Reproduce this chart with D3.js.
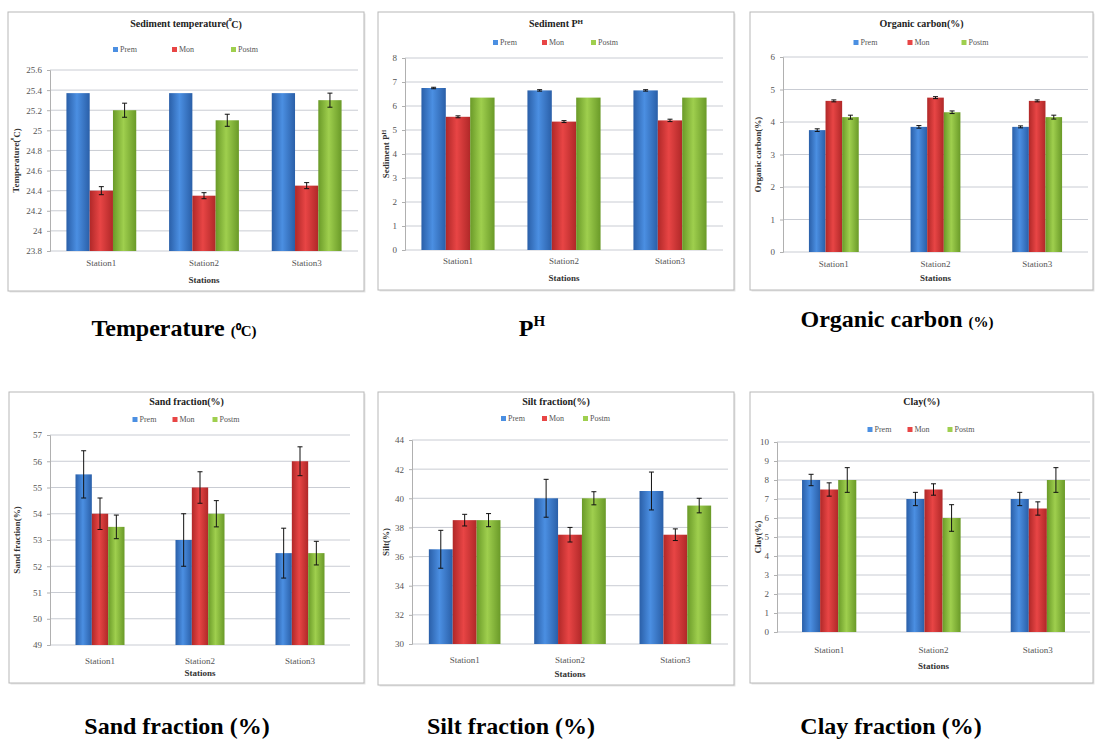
<!DOCTYPE html>
<html>
<head>
<meta charset="utf-8">
<script src="https://cdn.jsdelivr.net/npm/d3@7"></script>
<style>
  body { margin: 0; background: #fff; }
  text { font-family: 'Liberation Serif', 'Times New Roman', serif; }
</style>
</head>
<body>
<svg id="container" width="1095" height="742"></svg>
<script>
const stations = ['Station1', 'Station2', 'Station3'];
const seasons = ['Prem', 'Mon', 'Postm'];

// rows = stations, columns = seasons (Prem, Mon, Postm)
const temperature = [[25.37, 24.4, 25.2], [25.37, 24.35, 25.1], [25.37, 24.45, 25.3]];
const temperatureErr = [[0, 0.04, 0.07], [0, 0.03, 0.06], [0, 0.03, 0.07]];
const temperatureTicks = [23.8, 24, 24.2, 24.4, 24.6, 24.8, 25, 25.2, 25.4, 25.6];

const ph = [[6.75, 5.55, 6.35], [6.65, 5.35, 6.35], [6.65, 5.4, 6.35]];
const phErr = [[0.03, 0.04, 0], [0.03, 0.04, 0], [0.03, 0.05, 0]];
const phTicks = [0, 1, 2, 3, 4, 5, 6, 7, 8];

const carbon = [[3.75, 4.65, 4.15], [3.85, 4.75, 4.3], [3.85, 4.65, 4.15]];
const carbonErr = [[0.04, 0.03, 0.06], [0.04, 0.03, 0.04], [0.03, 0.03, 0.06]];
const carbonTicks = [0, 1, 2, 3, 4, 5, 6];

const sand = [[55.5, 54, 53.5], [53, 55, 54], [52.5, 56, 52.5]];
const sandErr = [[0.9, 0.6, 0.45], [1.0, 0.6, 0.5], [0.95, 0.55, 0.45]];
const sandTicks = [49, 50, 51, 52, 53, 54, 55, 56, 57];

const silt = [[36.5, 38.5, 38.5], [40, 37.5, 40], [40.5, 37.5, 39.5]];
const siltErr = [[1.3, 0.4, 0.45], [1.3, 0.5, 0.45], [1.3, 0.4, 0.5]];
const siltTicks = [30, 32, 34, 36, 38, 40, 42, 44];

const clay = [[8, 7.5, 8], [7, 7.5, 6], [7, 6.5, 8]];
const clayErr = [[0.3, 0.35, 0.65], [0.35, 0.3, 0.7], [0.35, 0.35, 0.65]];
const clayTicks = [0, 1, 2, 3, 4, 5, 6, 7, 8, 9, 10];

const colors = [
  { edge: '#2a5fa8', mid: '#4b8fe2' },
  { edge: '#b02828', mid: '#e84545' },
  { edge: '#6a9a28', mid: '#9fcf4e' },
];

const svg = d3.select('#container');

// gradients like the Excel bars
const defs = svg.append('defs');
colors.forEach((c, i) => {
  const g = defs.append('linearGradient').attr('id', 'grad' + i)
    .attr('x1', '0%').attr('x2', '100%').attr('y1', '0%').attr('y2', '0%');
  g.append('stop').attr('offset', '0%').attr('stop-color', c.edge);
  g.append('stop').attr('offset', '45%').attr('stop-color', c.mid);
  g.append('stop').attr('offset', '100%').attr('stop-color', c.edge);
});

const panels = [
  { data: temperature, err: temperatureErr, ticks: temperatureTicks,
    title: ['Sediment temperature(', '⁰', 'C)'], ylab: ['Temperature(', '⁰', 'C)'],
    frame: [8, 12, 364, 291], plot: [50, 70, 358, 251], group: 0.68,
    titleY: 27, legendY: 52, legendStep: 59, labY: 266, axY: 283 },
  { data: ph, err: phErr, ticks: phTicks,
    title: ['Sediment P', 'H', ''], ylab: ['Sediment P', 'H', ''],
    frame: [378, 12, 734, 290], plot: [405, 58, 723, 250], group: 0.69,
    titleY: 27, legendY: 45, legendStep: 49, labY: 264, axY: 281 },
  { data: carbon, err: carbonErr, ticks: carbonTicks,
    title: ['Organic carbon(%)', '', ''], ylab: ['Organic carbon(%)', '', ''],
    frame: [750, 12, 1093, 290], plot: [783, 57, 1088, 252], group: 0.49,
    titleY: 27, legendY: 45, legendStep: 54, labY: 267, axY: 281 },
  { data: sand, err: sandErr, ticks: sandTicks,
    title: ['Sand fraction(%)', '', ''], ylab: ['Sand fraction(%)', '', ''],
    frame: [9, 392, 364, 683], plot: [50, 435, 350, 645], group: 0.49,
    titleY: 405, legendY: 422, legendStep: 40, labY: 664, axY: 676 },
  { data: silt, err: siltErr, ticks: siltTicks,
    title: ['Silt fraction(%)', '', ''], ylab: ['Silt(%)', '', ''],
    frame: [378, 392, 734, 685], plot: [412, 440, 728, 644], group: 0.68,
    titleY: 405, legendY: 421, legendStep: 41, labY: 663, axY: 677 },
  { data: clay, err: clayErr, ticks: clayTicks,
    title: ['Clay(%)', '', ''], ylab: ['Clay(%)', '', ''],
    frame: [750, 392, 1093, 683], plot: [777, 442, 1090, 632], group: 0.52,
    titleY: 405, legendY: 432, legendStep: 40, labY: 653, axY: 669 },
];

// text with an optional superscript part: [before, sup, after]
function richText(sel, parts, supSize) {
  sel.append('tspan').text(parts[0]);
  if (parts[1]) {
    sel.append('tspan').attr('dy', '-0.45em').style('font-size', supSize).text(parts[1]);
    if (parts[2]) sel.append('tspan').attr('dy', '0.45em').text(parts[2]);
  }
}

panels.forEach((p) => {
  const [fx0, fy0, fx1, fy1] = p.frame;
  const [px0, py0, px1, py1] = p.plot;
  const g = svg.append('g');

  g.append('rect')
    .attr('x', fx0 + 1.5).attr('y', fy0 + 1.5)
    .attr('width', fx1 - fx0).attr('height', fy1 - fy0)
    .attr('fill', '#e6e6e6');
  g.append('rect')
    .attr('x', fx0).attr('y', fy0)
    .attr('width', fx1 - fx0).attr('height', fy1 - fy0)
    .attr('fill', '#fff').attr('stroke', '#b8b8b8').attr('stroke-width', 1);

  const y = d3.scaleLinear()
    .domain([p.ticks[0], p.ticks[p.ticks.length - 1]])
    .range([py1, py0]);
  const x = d3.scaleBand().domain(stations).range([px0, px1]).padding(0);
  const gw = x.bandwidth() * p.group;
  const xs = d3.scaleBand().domain(seasons).range([-gw / 2, gw / 2]).padding(0);

  // gridlines
  g.append('g').selectAll('line').data(p.ticks).join('line')
    .attr('x1', px0).attr('x2', px1)
    .attr('y1', (d) => y(d)).attr('y2', (d) => y(d))
    .attr('stroke', '#c9ccd3').attr('stroke-width', 1);

  // y axis
  const yAxis = d3.axisLeft(y).tickValues(p.ticks).tickSize(3).tickPadding(5)
    .tickFormat((d) => String(+d.toFixed(1)));
  const gy = g.append('g').attr('transform', `translate(${px0},0)`).call(yAxis);
  gy.select('.domain').attr('stroke', '#b0b0b0');
  gy.selectAll('.tick line').attr('stroke', '#b0b0b0');
  gy.selectAll('.tick text')
    .style('font-family', "'Liberation Serif', serif")
    .style('font-size', '9px').attr('fill', '#555');

  // x axis labels
  const xAxis = d3.axisBottom(x).tickSize(0).tickPadding(0);
  const gx = g.append('g').attr('transform', `translate(0,${p.labY - 6})`).call(xAxis);
  gx.select('.domain').remove();
  gx.selectAll('.tick text')
    .style('font-family', "'Liberation Serif', serif")
    .style('font-size', '9px').attr('fill', '#555');

  g.append('text')
    .attr('x', (px0 + px1) / 2).attr('y', p.axY)
    .attr('text-anchor', 'middle')
    .style('font-size', '9px').style('font-weight', 'bold').attr('fill', '#333')
    .text('Stations');

  // y label
  const yl = g.append('text')
    .attr('transform', `translate(${fx0 + 11},${(py0 + py1) / 2}) rotate(-90)`)
    .attr('text-anchor', 'middle')
    .style('font-size', '9px').style('font-weight', 'bold').attr('fill', '#333');
  richText(yl, p.ylab, '6px');

  // title
  const tt = g.append('text')
    .attr('x', (fx0 + fx1) / 2).attr('y', p.titleY)
    .attr('text-anchor', 'middle')
    .style('font-size', '10px').style('font-weight', 'bold').attr('fill', '#222');
  richText(tt, p.title, '7px');

  // legend
  const lg = g.append('g');
  seasons.forEach((s, i) => {
    const lx = (fx0 + fx1) / 2 + (i - 1) * p.legendStep - 14;
    lg.append('rect').attr('x', lx).attr('y', p.legendY - 5)
      .attr('width', 5).attr('height', 5).attr('fill', colors[i].mid);
    lg.append('text').attr('x', lx + 7).attr('y', p.legendY)
      .style('font-size', '8px').attr('fill', '#555').text(s);
  });

  // bars
  const rows = [];
  p.data.forEach((vals, si) => {
    vals.forEach((v, k) => {
      rows.push({ st: stations[si], k, v, e: p.err[si][k] });
    });
  });

  g.append('g').selectAll('rect').data(rows).join('rect')
    .attr('x', (d) => x(d.st) + x.bandwidth() / 2 + xs(seasons[d.k]))
    .attr('y', (d) => y(d.v))
    .attr('width', xs.bandwidth())
    .attr('height', (d) => py1 - y(d.v))
    .attr('fill', (d) => `url(#grad${d.k})`);

  // error bars
  const eb = g.append('g').selectAll('g').data(rows.filter((d) => d.e > 0)).join('g')
    .attr('transform', (d) =>
      `translate(${x(d.st) + x.bandwidth() / 2 + xs(seasons[d.k]) + xs.bandwidth() / 2},0)`);
  eb.append('line')
    .attr('y1', (d) => y(d.v - d.e)).attr('y2', (d) => y(d.v + d.e))
    .attr('stroke', '#111').attr('stroke-width', 1);
  eb.append('line').attr('x1', -2.5).attr('x2', 2.5)
    .attr('y1', (d) => y(d.v + d.e)).attr('y2', (d) => y(d.v + d.e))
    .attr('stroke', '#111').attr('stroke-width', 1);
  eb.append('line').attr('x1', -2.5).attr('x2', 2.5)
    .attr('y1', (d) => y(d.v - d.e)).attr('y2', (d) => y(d.v - d.e))
    .attr('stroke', '#111').attr('stroke-width', 1);
});

// captions under each panel
const captions = [
  { x: 174, y: 336, main: 'Temperature ', small: '(⁰C)' },
  { x: 532, y: 336, main: 'P', sup: 'H' },
  { x: 897, y: 327, main: 'Organic carbon ', small: '(%)' },
  { x: 177, y: 734, main: 'Sand fraction (%)' },
  { x: 511, y: 734, main: 'Silt fraction (%)' },
  { x: 891, y: 734, main: 'Clay fraction (%)' },
];

captions.forEach((c) => {
  const t = svg.append('text')
    .attr('x', c.x).attr('y', c.y).attr('text-anchor', 'middle')
    .style('font-size', '24px').style('font-weight', 'bold').attr('fill', '#000');
  t.append('tspan').text(c.main);
  if (c.small) t.append('tspan').style('font-size', '15px').text(c.small);
  if (c.sup) t.append('tspan').attr('dy', '-10').style('font-size', '15px').text(c.sup);
});
</script>
</body>
</html>
